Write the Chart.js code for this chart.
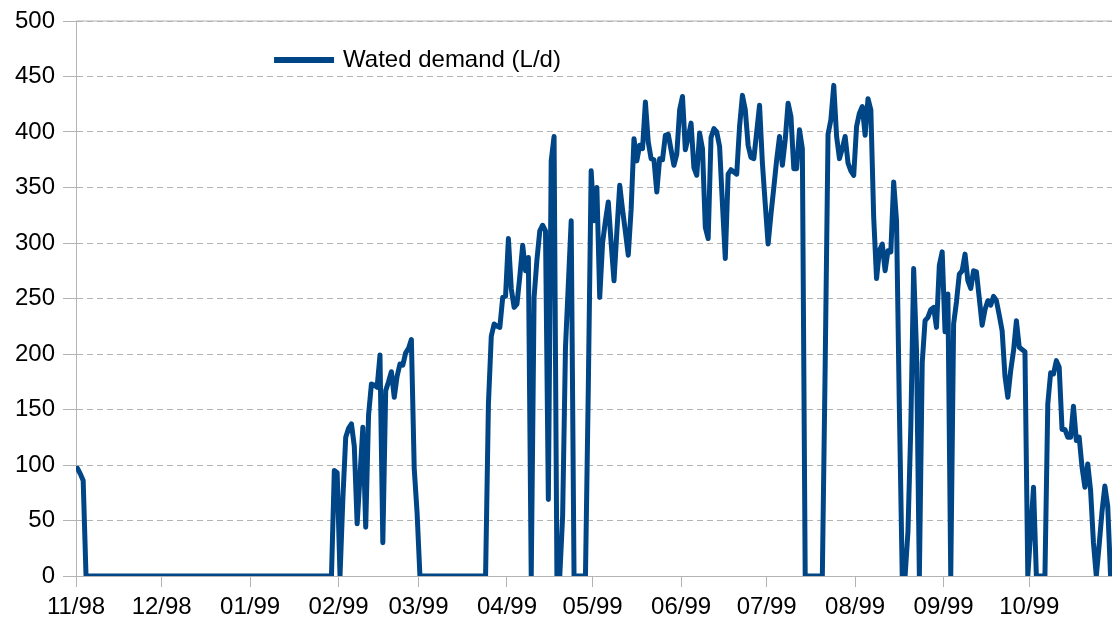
<!DOCTYPE html>
<html lang="en">
<head>
  <meta charset="UTF-8" />
  <title>Wated demand (L/d)</title>
  <script src="https://cdn.jsdelivr.net/npm/chart.js"></script>
  <style>
    body {
      margin: 0;
      background: #ffffff;
    }
    #demand-chart {
      display: block;
    }
  </style>
</head>
<body>
  <canvas id="demand-chart" width="1112" height="621"></canvas>

  <script>
    const SERIES_LABEL = "Wated demand (L/d)";
    const LINE_COLOR = "#004586";
    const GRID_COLOR = "#b3b3b3";
    const FONT_FAMILY = "'Liberation Sans', Arial, sans-serif";

    const monthLabels = ["11/98", "12/98", "01/99", "02/99", "03/99", "04/99",
                         "05/99", "06/99", "07/99", "08/99", "09/99", "10/99"];

    // daily demand, one array per month (L/d)
    const nov98 = [97, 92, 86, 0, 0, 0, 0, 0, 0, 0,
                   0, 0, 0, 0, 0, 0, 0, 0, 0, 0,
                   0, 0, 0, 0, 0, 0, 0, 0, 0, 0];
    const dec98 = [0, 0, 0, 0, 0, 0, 0, 0, 0, 0,
                   0, 0, 0, 0, 0, 0, 0, 0, 0, 0,
                   0, 0, 0, 0, 0, 0, 0, 0, 0, 0, 0];
    const jan99 = [0, 0, 0, 0, 0, 0, 0, 0, 0, 0,
                   0, 0, 0, 0, 0, 0, 0, 0, 0, 0,
                   0, 0, 0, 0, 0, 0, 0, 0, 0, 95, 93];
    const feb99 = [0, 70, 125, 133, 137, 117, 47, 90, 134, 44,
                   145, 173, 172, 170, 199, 30, 167, 175, 184, 161,
                   180, 191, 190, 201, 205, 213, 97, 57];
    const mar99 = [0, 0, 0, 0, 0, 0, 0, 0, 0, 0,
                   0, 0, 0, 0, 0, 0, 0, 0, 0, 0,
                   0, 0, 0, 0, 155, 216, 227, 225, 224, 251, 252];
    const apr99 = [304, 259, 242, 245, 270, 298, 275, 287, 0, 251,
                   285, 311, 316, 311, 69, 374, 396, 0, 0, 54,
                   206, 263, 320, 0, 0, 0, 0, 0, 170, 365];
    const may99 = [320, 350, 251, 300, 320, 337, 300, 266, 310, 352,
                   330, 310, 289, 330, 394, 374, 388, 385, 427, 391,
                   376, 375, 346, 376, 375, 397, 398, 384, 370, 380, 420];
    const jun99 = [432, 384, 395, 408, 368, 361, 399, 385, 314, 304,
                   395, 403, 400, 387, 335, 286, 362, 366, 364, 362,
                   405, 433, 420, 388, 377, 376, 400, 424, 372, 335];
    const jul99 = [299, 326, 350, 375, 396, 370, 393, 426, 414, 367,
                   367, 402, 385, 0, 0, 0, 0, 0, 0, 0,
                   190, 398, 411, 442, 396, 376, 385, 396, 372, 365, 361];
    const aug99 = [405, 417, 423, 397, 430, 420, 323, 268, 293, 299,
                   275, 293, 292, 355, 320, 150, 0, 0, 40, 134,
                   277, 203, 0, 192, 230, 233, 240, 242, 224, 280, 292];
    const sep99 = [220, 254, 0, 227, 247, 272, 275, 290, 266, 259,
                   275, 274, 250, 226, 240, 248, 244, 252, 248, 235,
                   221, 180, 161, 185, 203, 230, 206, 204, 202, 0];
    const oct99 = [40, 80, 0, 0, 0, 0, 155, 183, 182, 194,
                   188, 132, 132, 125, 125, 153, 122, 125, 98, 80,
                   101, 77, 30, 0, 28, 58, 81, 63, 0];

    const months = [nov98, dec98, jan99, feb99, mar99, apr99,
                    may99, jun99, jul99, aug99, sep99, oct99];

    // day index where each month starts
    const monthStarts = [];
    let dayCount = 0;
    months.forEach(m => {
      monthStarts.push(dayCount);
      dayCount += m.length;
    });

    const dailyValues = months.flat();
    const points = dailyValues.map((v, i) => ({ x: i, y: v }));

    // legend sits inside the plot, like the original; top frame line is solid
    const insideLegend = {
      id: "insideLegend",
      beforeDatasetsDraw(chart) {
        const { ctx, chartArea, scales } = chart;
        const yTop = scales.y.getPixelForValue(scales.y.max);
        ctx.save();
        ctx.strokeStyle = GRID_COLOR;
        ctx.lineWidth = 1;
        ctx.beginPath();
        ctx.moveTo(chartArea.left, yTop);
        ctx.lineTo(chartArea.right, yTop);
        ctx.stroke();
        ctx.restore();
      },
      afterDatasetsDraw(chart) {
        const { ctx, chartArea } = chart;
        const ds = chart.data.datasets[0];
        const x = chartArea.left + 198;
        const y = chartArea.top + 39;
        ctx.save();
        ctx.strokeStyle = ds.borderColor;
        ctx.lineWidth = 6;
        ctx.beginPath();
        ctx.moveTo(x, y);
        ctx.lineTo(x + 60, y);
        ctx.stroke();
        ctx.fillStyle = "#000000";
        ctx.font = "24px " + FONT_FAMILY;
        ctx.textBaseline = "middle";
        ctx.fillText(ds.label, x + 69, y);
        ctx.restore();
      }
    };

    const ctx = document.getElementById("demand-chart").getContext("2d");

    new Chart(ctx, {
      type: "line",
      data: {
        datasets: [{
          label: SERIES_LABEL,
          data: points,
          borderColor: LINE_COLOR,
          borderWidth: 5,
          pointRadius: 0,
          tension: 0,
          fill: false,
          borderJoinStyle: "round",
          borderCapStyle: "round"
        }]
      },
      options: {
        responsive: false,
        animation: false,
        devicePixelRatio: 1,
        layout: {
          padding: { top: 21, left: 7, right: 0, bottom: -6 }
        },
        plugins: {
          legend: { display: false },
          tooltip: { enabled: false }
        },
        scales: {
          x: {
            type: "linear",
            min: -0.5,
            max: dailyValues.length - 0.5,
            afterBuildTicks: scale => {
              scale.ticks = monthStarts.map(d => ({ value: d - 0.5 }));
            },
            ticks: {
              autoSkip: false,
              maxRotation: 0,
              padding: 8,
              color: "#000000",
              font: { family: FONT_FAMILY, size: 24, lineHeight: 1 },
              callback: (value, index) => monthLabels[index]
            },
            grid: {
              drawOnChartArea: false,
              color: GRID_COLOR,
              tickLength: 11
            },
            border: { color: GRID_COLOR }
          },
          y: {
            min: 0,
            max: 500,
            ticks: {
              stepSize: 50,
              padding: 8,
              color: "#000000",
              font: { family: FONT_FAMILY, size: 24, lineHeight: 1 }
            },
            grid: {
              color: GRID_COLOR,
              tickLength: 13
            },
            border: { color: GRID_COLOR, dash: [6, 4] }
          }
        }
      },
      plugins: [insideLegend]
    });
  </script>
</body>
</html>
